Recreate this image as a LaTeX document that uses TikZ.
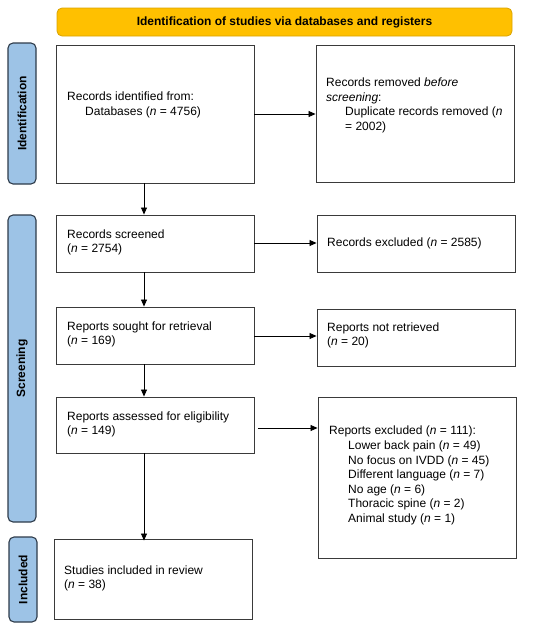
\documentclass[tikz,border=0pt]{standalone}
\usepackage{fontspec}
\setmainfont{Liberation Sans}
\usetikzlibrary{arrows.meta}
\definecolor{bannerfill}{HTML}{FFC000}
\definecolor{bannerdraw}{HTML}{D9A300}
\definecolor{sidefill}{HTML}{9DC3E6}
\definecolor{sidedraw}{HTML}{2E3B4A}
\definecolor{boxdraw}{HTML}{3A3A3A}
\tikzset{
  x=1pt, y=-1pt,
  every node/.style={font=\fontsize{12}{14.6}\selectfont, inner sep=0pt},
  stagebox/.style={draw=boxdraw, line width=0.9pt, inner sep=0pt},
  txt/.style={anchor=west, align=left},
  banner/.style={draw=bannerdraw, fill=bannerfill, line width=0.8pt, rounded corners=5pt,
    font=\fontsize{12}{14}\selectfont\bfseries},
  side/.style={draw=sidedraw, fill=sidefill, line width=1.1pt, rounded corners=5pt,
    font=\fontsize{12}{14}\selectfont\bfseries},
  arr/.style={-{Triangle[length=7pt,width=6pt]}, line width=0.8pt, black},
}
\begin{document}
\begin{tikzpicture}
\useasboundingbox (0,0) rectangle (550,627);
% banner
\node[banner, minimum width=455, minimum height=28] (ban) at (284.5,22) {Identification of studies via databases and registers};
% side labels
\node[side, minimum width=28, minimum height=141] (sid) at (22,113.5) {};
\node[rotate=90, font=\fontsize{12}{14}\selectfont\bfseries] (sidt) at (sid.center) {Identification};
\node[side, minimum width=28, minimum height=307] (sis) at (22,368.5) {};
\node[rotate=90, font=\fontsize{12}{14}\selectfont\bfseries] (sist) at (sis.center) {Screening};
\node[side, minimum width=28, minimum height=85] (sii) at (23,579.5) {};
\node[rotate=90, font=\fontsize{12}{14}\selectfont\bfseries] (siit) at (sii.center) {Included};
% boxes
\node[stagebox, minimum width=198, minimum height=138] (b1) at (155,114) {};
\node[stagebox, minimum width=198, minimum height=137] (b2) at (415,113.5) {};
\node[stagebox, minimum width=198, minimum height=57] (b3) at (155,243.5) {};
\node[stagebox, minimum width=198, minimum height=57] (b4) at (416,243.5) {};
\node[stagebox, minimum width=198, minimum height=57] (b5) at (155,335.5) {};
\node[stagebox, minimum width=198, minimum height=57] (b6) at (416,337.5) {};
\node[stagebox, minimum width=198, minimum height=56] (b7) at (155,425) {};
\node[stagebox, minimum width=198, minimum height=161] (b8) at (417,477.5) {};
\node[stagebox, minimum width=198, minimum height=80] (b9) at (153,579) {};
% texts
\node[txt] (t1) at (67,105) {Records identified from:\\\hspace*{18pt}Databases (\textit{n} = 4756)};
\node[txt] (t2) at (326,105.5) {Records removed \textit{before}\\\textit{screening}:\\\hspace*{19pt}Duplicate records removed (\textit{n}\\\hspace*{19pt}= 2002)};
\node[txt] (t3) at (67,242.5) {Records screened\\(\textit{n} = 2754)};
\node[txt] (t4) at (327,243) {Records excluded (\textit{n} = 2585)};
\node[txt] (t5) at (67,334.5) {Reports sought for retrieval\\(\textit{n} = 169)};
\node[txt] (t6) at (327,335.5) {Reports not retrieved\\(\textit{n} = 20)};
\node[txt] (t7) at (67,424.5) {Reports assessed for eligibility\\(\textit{n} = 149)};
\node[txt] (t8) at (329,475.5) {Reports excluded (\textit{n} = 111):\\
\hspace*{19pt}Lower back pain (\textit{n} = 49)\\
\hspace*{19pt}No focus on IVDD (\textit{n} = 45)\\
\hspace*{19pt}Different language (\textit{n} = 7)\\
\hspace*{19pt}No age (\textit{n} = 6)\\
\hspace*{19pt}Thoracic spine (\textit{n} = 2)\\
\hspace*{19pt}Animal study (\textit{n} = 1)};
\node[txt] (t9) at (64,578.5) {Studies included in review\\(\textit{n} = 38)};
% arrows
\draw[arr] (b1.east |- 0,114) -- (b2.west |- 0,114);
\draw[arr] (b3.east |- 0,243) -- (b4.west |- 0,243);
\draw[arr] (b5.east |- 0,336) -- (b6.west |- 0,336);
\draw[arr] ([xshift=4pt]b7.east |- 0,428) -- (b8.west |- 0,428);
\draw[arr] (b1.south -| 144,0) -- (b3.north -| 144,0);
\draw[arr] (b3.south -| 144,0) -- (b5.north -| 144,0);
\draw[arr] (b5.south -| 144,0) -- (b7.north -| 144,0);
\draw[arr] (b7.south -| 144,0) -- ([yshift=-2pt]b9.north -| 144,0);
\end{tikzpicture}
\end{document}
